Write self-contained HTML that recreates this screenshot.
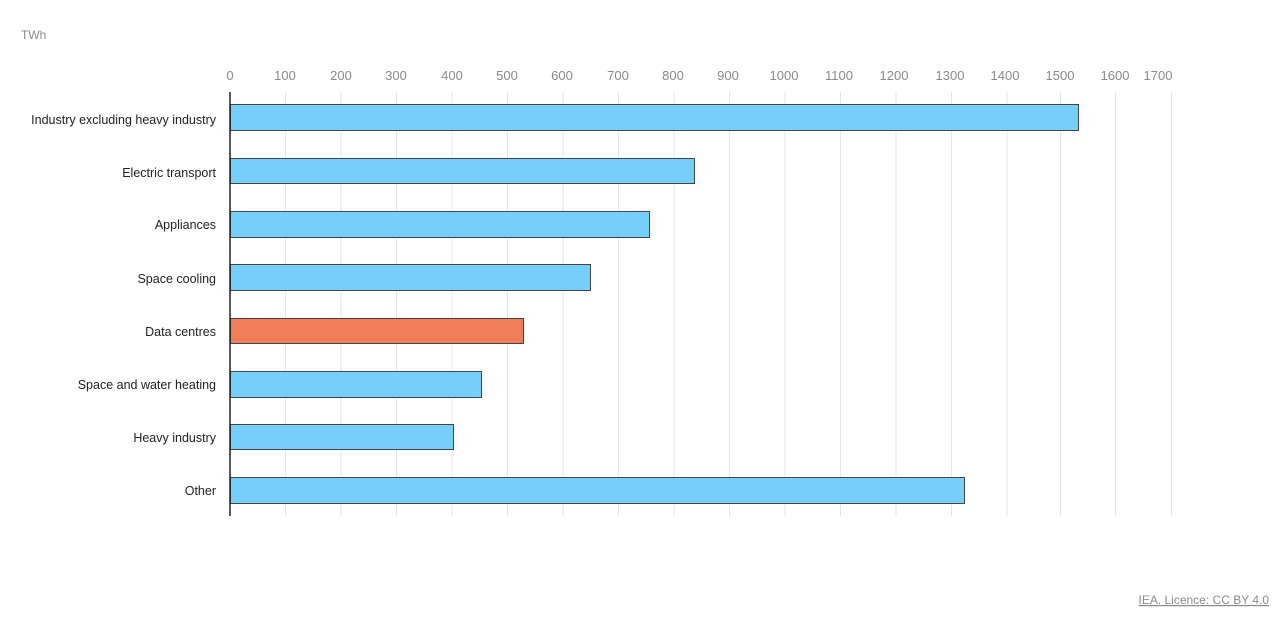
<!DOCTYPE html>
<html><head><style>
body{margin:0;background:#fff;}
svg{display:block;font-family:"Liberation Sans",sans-serif;}
</style></head><body>
<svg width="1280" height="617" viewBox="0 0 1280 617">
<text x="21" y="39" font-size="12" fill="#8a8a8a">TWh</text>
<g stroke="#e6e6e6" stroke-width="1">
<line x1="285.5" y1="92" x2="285.5" y2="516"/><line x1="341" y1="92" x2="341" y2="516"/><line x1="396.5" y1="92" x2="396.5" y2="516"/><line x1="452" y1="92" x2="452" y2="516"/><line x1="507.5" y1="92" x2="507.5" y2="516"/><line x1="563" y1="92" x2="563" y2="516"/><line x1="618.5" y1="92" x2="618.5" y2="516"/><line x1="674" y1="92" x2="674" y2="516"/><line x1="729.5" y1="92" x2="729.5" y2="516"/><line x1="785" y1="92" x2="785" y2="516"/><line x1="840.5" y1="92" x2="840.5" y2="516"/><line x1="896" y1="92" x2="896" y2="516"/><line x1="951.5" y1="92" x2="951.5" y2="516"/><line x1="1007" y1="92" x2="1007" y2="516"/><line x1="1060.5" y1="92" x2="1060.5" y2="516"/><line x1="1115.5" y1="92" x2="1115.5" y2="516"/><line x1="1171.5" y1="92" x2="1171.5" y2="516"/>
</g>
<g font-size="13" fill="#8a8a8a" text-anchor="middle">
<text x="230" y="80">0</text><text x="285" y="80">100</text><text x="341" y="80">200</text><text x="396" y="80">300</text><text x="452" y="80">400</text><text x="507" y="80">500</text><text x="562" y="80">600</text><text x="618" y="80">700</text><text x="673" y="80">800</text><text x="728" y="80">900</text><text x="784" y="80">1000</text><text x="839" y="80">1100</text><text x="894" y="80">1200</text><text x="950" y="80">1300</text><text x="1005" y="80">1400</text><text x="1060" y="80">1500</text><text x="1115" y="80">1600</text><text x="1158" y="80">1700</text>
</g>
<g stroke="#444" stroke-width="1" fill="#75cffa">
<rect x="230.5" y="104.5" width="848" height="26"/>
<rect x="230.5" y="158.5" width="464" height="25"/>
<rect x="230.5" y="211.5" width="419" height="26"/>
<rect x="230.5" y="264.5" width="360" height="26"/>
<rect x="230.5" y="318.5" width="293" height="25" fill="#ef7d5a"/>
<rect x="230.5" y="371.5" width="251" height="26"/>
<rect x="230.5" y="424.5" width="223" height="25"/>
<rect x="230.5" y="477.5" width="734" height="26"/>
</g>
<line x1="230" y1="92" x2="230" y2="516" stroke="#222" stroke-width="1.5"/>
<g font-size="12.5" fill="#222" text-anchor="end">
<text x="216" y="124">Industry excluding heavy industry</text>
<text x="216" y="177">Electric transport</text>
<text x="216" y="229">Appliances</text>
<text x="216" y="283">Space cooling</text>
<text x="216" y="336">Data centres</text>
<text x="216" y="389">Space and water heating</text>
<text x="216" y="442">Heavy industry</text>
<text x="216" y="495">Other</text>
</g>
<text x="1269" y="604" font-size="12" fill="#8a8a8a" text-anchor="end" text-decoration="underline">IEA. Licence: CC BY 4.0</text>
</svg>
</body></html>
